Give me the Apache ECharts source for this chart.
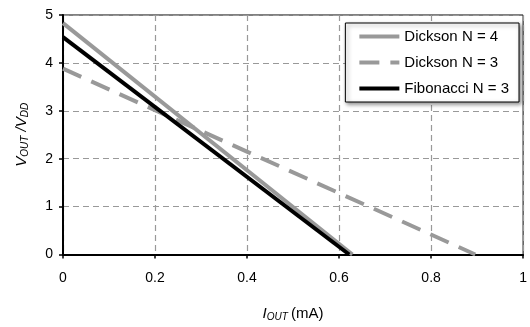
<!DOCTYPE html>
<html><head><meta charset="utf-8">
<script src="https://cdn.jsdelivr.net/npm/echarts@6/dist/echarts.min.js"></script>
<style>html,body{margin:0;padding:0;background:#fff}#c{width:530px;height:327px}</style>
</head><body><div id="c"></div>
<script>
const seriesNames = ['Dickson N = 4', 'Dickson N = 3', 'Fibonacci N = 3'];
const dickson4X = [0, 0.629];
const dickson4Y = [4.83, 0];
const dickson3X = [0, 0.896];
const dickson3Y = [3.88, 0];
const fib3X = [0, 0.622];
const fib3Y = [4.54, 0];
const xTicks = [0, 0.2, 0.4, 0.6, 0.8, 1];
const yTicks = [0, 1, 2, 3, 4, 5];

const zip = (xs, ys) => xs.map((x, i) => [x, ys[i]]);
const font = 'Liberation Sans, Arial, sans-serif';
const chart = echarts.init(document.getElementById('c'));
chart.setOption({
  animation: false,
  textStyle: { fontFamily: font },
  grid: { left: 63, right: 1, top: 15, bottom: 67, show: true, borderColor: '#000', borderWidth: 1 },
  xAxis: {
    type: 'value', min: 0, max: 1, interval: 0.2,
    axisLine: { lineStyle: { color: '#000', width: 2 } },
    axisTick: { show: true, length: 4, lineStyle: { color: '#000', width: 1.5 } },
    axisLabel: { color: '#000', fontSize: 14, margin: 17, formatter: v => String(+v.toFixed(1)) },
    splitLine: { lineStyle: { color: '#999', type: [6, 4], width: 1.2 } },
    name: '{i|I}{s|OUT} {n|(mA)}', nameLocation: 'middle', nameGap: 50,
    nameTextStyle: { rich: {
      i: { fontSize: 15, fontStyle: 'italic', color: '#000', fontFamily: font, lineHeight: 18 },
      s: { fontSize: 10, fontStyle: 'italic', color: '#000', fontFamily: font, padding: [7, 0, 0, 0] },
      n: { fontSize: 15, color: '#000', fontFamily: font, lineHeight: 18 }
    } }
  },
  yAxis: {
    type: 'value', min: 0, max: 5, interval: 1,
    axisLine: { show: true, lineStyle: { color: '#000', width: 2 } },
    axisTick: { show: true, length: 4, lineStyle: { color: '#000', width: 1.5 } },
    axisLabel: { color: '#000', fontSize: 14, margin: 10 },
    splitLine: { lineStyle: { color: '#999', type: [6, 4], width: 1.2 } },
    name: '{i|V}{s|OUT}{i| /V}{s|DD}', nameLocation: 'middle', nameGap: 32, nameRotate: 90,
    nameTextStyle: { rich: {
      i: { fontSize: 15, fontStyle: 'italic', color: '#000', fontFamily: font, lineHeight: 18 },
      s: { fontSize: 10, fontStyle: 'italic', color: '#000', fontFamily: font, padding: [7, 0, 0, 0] }
    } }
  },
  legend: {
    orient: 'vertical', right: 11, top: 23,
    backgroundColor: '#fff', borderColor: '#000', borderWidth: 1,
    shadowColor: 'rgba(0,0,0,0.45)', shadowBlur: 4, shadowOffsetX: 2, shadowOffsetY: 2,
    padding: [6, 10, 6, 12], itemGap: 11, itemWidth: 40, itemHeight: 14,
    itemStyle: { opacity: 0 },
    lineStyle: { width: 4 },
    textStyle: { color: '#000', fontSize: 15, fontFamily: font },
    data: seriesNames
  },
  series: [
    { name: seriesNames[0], type: 'line', symbol: 'none', data: zip(dickson4X, dickson4Y),
      lineStyle: { color: '#999', width: 4 }, itemStyle: { color: '#999' } },
    { name: seriesNames[1], type: 'line', symbol: 'none', data: zip(dickson3X, dickson3Y),
      lineStyle: { color: '#999', width: 4, type: [20, 11] }, itemStyle: { color: '#999' } },
    { name: seriesNames[2], type: 'line', symbol: 'none', data: zip(fib3X, fib3Y),
      lineStyle: { color: '#000', width: 4 }, itemStyle: { color: '#000' } }
  ]
});
</script></body></html>
